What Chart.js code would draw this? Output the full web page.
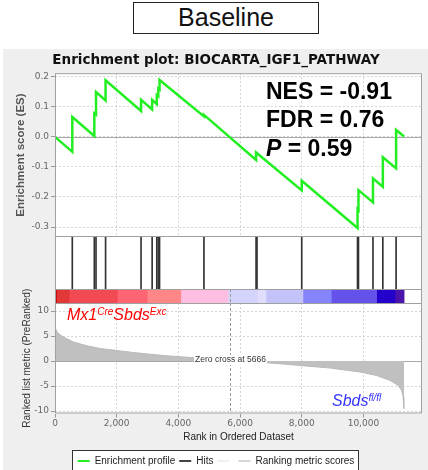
<!DOCTYPE html>
<html>
<head>
<meta charset="utf-8">
<script src="https://cdn.jsdelivr.net/npm/chart.js@4.4.1/dist/chart.umd.min.js"></script>
<style>
    html, body { margin: 0; padding: 0; background: #fff; }
    body { position: relative; width: 428px; height: 470px; overflow: hidden; font-family: Arial, "Liberation Sans", sans-serif; }
    .abs { position: absolute; }
    canvas { position: absolute; left: 0; }
    #panel { left: 3px; top: 49px; width: 425px; height: 421px; background: #efefef; }
    #caption { left: 133px; top: 2px; width: 186px; height: 32px; box-sizing: border-box; border: 1.5px solid #222;
               font-size: 25px; line-height: 29px; text-align: center; color: #111; }
    #legendBox { left: 72px; top: 450px; width: 287px; height: 26px; box-sizing: border-box; border: 1px solid #333; background: #fff; }
    #stats { left: 266px; top: 77px; font-size: 23px; font-weight: bold; line-height: 28.4px; color: #000; white-space: nowrap; }
    .geno { font-style: italic; font-size: 16px; line-height: 18px; white-space: nowrap; }
    .geno sup { font-size: 10px; vertical-align: 0; position: relative; top: -5px; }
    #upLabel { left: 67px; top: 306px; color: #f00; }
    #dnLabel { left: 332px; top: 392px; color: #3434ff; }
</style>
</head>
<body>
<div id="panel" class="abs"></div>
<div id="caption" class="abs">Baseline</div>
<div id="legendBox" class="abs"></div>
<canvas id="esCanvas" width="428" height="188" style="top:49px"></canvas>
<canvas id="hitsCanvas" width="428" height="54" style="top:236px"></canvas>
<canvas id="barCanvas" width="428" height="15" style="top:289px"></canvas>
<canvas id="metricCanvas" width="428" height="239" style="top:237px"></canvas>
<div id="stats" class="abs">NES = -0.91<br>FDR = 0.76<br><i>P</i> = 0.59</div>
<div id="upLabel" class="abs geno">Mx1<sup>Cre</sup>Sbds<sup>Exc</sup></div>
<div id="dnLabel" class="abs geno">Sbds<sup>fl/fl</sup></div>
<script>
// 排序清單長度（x 軸上限）
const xMax = 11900;
const zeroCross = 5666;

// 刻度
const rankTicks = [0, 2000, 4000, 6000, 8000, 10000];
const esTicks = [-0.3, -0.2, -0.1, 0, 0.1, 0.2];
const metricTicks = [-10, -5, 0, 5, 10];

// 富集分數曲線頂點
const esRank = [0, 561, 561, 1275, 1275, 1330, 1330, 1640, 1640, 2790, 2790, 3150, 3150, 3300, 3300, 3350, 3350, 3390, 3390,
                4830, 4830, 6520, 6520, 8000, 8000, 9810, 9810, 9840, 9840, 10310, 10310, 10630, 10630, 11060, 11060, 11320];
const esValue = [0, -0.050, 0.066, 0.003, 0.078, 0.074, 0.149, 0.121, 0.188, 0.086, 0.123, 0.091, 0.123, 0.109, 0.139, 0.135, 0.160, 0.157, 0.189,
                 0.068, 0.073, -0.077, -0.052, -0.178, -0.146, -0.303, -0.241, -0.244, -0.177, -0.218, -0.138, -0.166, -0.068, -0.105, 0.023, 0.001];

// 基因集命中位置
const hitRanks = [561, 1275, 1330, 1640, 2790, 3150, 3300, 3350, 3390, 4830, 6520, 6550, 8000, 9810, 9840, 10310, 10630, 11060];

// 色帶
const colorBreaks = [0, 75, 480, 2040, 3010, 4100, 5630, 6580, 6860, 8060, 8980, 10450, 11050, 11320];
const colorBarColors = ['#cc0a0a', '#e23838', '#f24a52', '#ff6472', '#ff8686', '#ffbde2', '#d3d3fb',
                        '#dfdffd', '#c3c3fa', '#8484fc', '#6552ea', '#2402cc', '#4a14aa'];

// 排序指標
const metricRank = [0, 15, 50, 110, 270, 600, 1030, 1460, 2000, 2540, 3080, 3620, 4160, 4540, 5000, 5666,
                    6200, 6750, 7400, 7950, 8920, 9890, 10430, 10870, 11130, 11240, 11290, 11310, 11320];
const metricValue = [7.2, 6.6, 6.0, 5.5, 4.8, 3.8, 3.05, 2.5, 2.1, 1.7, 1.35, 1.05, 0.8, 0.65, 0.42, 0,
                     -0.1, -0.3, -0.6, -0.9, -1.4, -2.2, -2.9, -3.9, -4.9, -5.9, -7.2, -9.5, -9.5];

// 圖例
const legendLabels = ['Enrichment profile', 'Hits', '', 'Ranking metric scores'];
const legendColors = ['#22ee22', '#444444', '#f0f0f0', '#d6d6d6'];

const esColor = '#22ee22';
const gridColor = '#d4d4d4';
const tickFont = { family: 'DejaVu Sans', size: 9 };

Chart.defaults.font.family = 'Arial, "Liberation Sans", sans-serif';
Chart.defaults.animation = false;

// 白底、零線、外框、零交叉線
const panelFrame = {
    id: 'panelFrame',
    beforeDraw(chart) {
        const { ctx, chartArea: a } = chart;
        ctx.save();
        ctx.fillStyle = '#fff';
        ctx.fillRect(a.left, a.top, a.width, a.height);
        ctx.restore();
    },
    beforeDatasetsDraw(chart, args, opts) {
        if (!opts.zeroLine) return;
        const { ctx, chartArea: a } = chart;
        const y = Math.round(chart.scales.y.getPixelForValue(0)) + 0.5;
        ctx.save();
        ctx.strokeStyle = '#a8a8a8';
        ctx.lineWidth = 1;
        ctx.beginPath();
        ctx.moveTo(a.left, y);
        ctx.lineTo(a.right, y);
        ctx.stroke();
        ctx.restore();
    },
    afterDatasetsDraw(chart, args, opts) {
        const { ctx, chartArea: a } = chart;
        ctx.save();
        if (opts.zeroCross) {
            const x = Math.round(chart.scales.x.getPixelForValue(zeroCross)) + 0.5;
            ctx.strokeStyle = '#9a9a9a';
            ctx.setLineDash([3, 2]);
            ctx.beginPath();
            ctx.moveTo(x, a.top);
            ctx.lineTo(x, a.bottom);
            ctx.stroke();
            ctx.setLineDash([]);
            if (opts.zeroLabel) {
                const text = 'Zero cross at ' + zeroCross;
                ctx.font = '8.5px Arial, "Liberation Sans", sans-serif';
                const w = ctx.measureText(text).width;
                const y = chart.scales.y.getPixelForValue(0) - 1;
                ctx.fillStyle = '#fff';
                ctx.fillRect(x - w / 2 - 1, y - 5, w + 2, 10);
                ctx.fillStyle = '#333';
                ctx.textAlign = 'center';
                ctx.textBaseline = 'middle';
                ctx.fillText(text, x, y);
            }
        }
        ctx.strokeStyle = '#a0a0a0';
        ctx.lineWidth = 1;
        ctx.strokeRect(a.left + 0.5, a.top + 0.5, a.width - 1, a.height - 1);
        ctx.restore();
    }
};

const baseOptions = {
    responsive: false,
    devicePixelRatio: 1,
    animation: false,
    events: []
};

function fixedTicks(values) {
    return s => { s.ticks = values.map(v => ({ value: v })); };
}

function rankAxis(showLabels) {
    return {
        type: 'linear',
        min: 0,
        max: xMax,
        bounds: 'data',
        offset: false,
        afterBuildTicks: fixedTicks(rankTicks),
        ticks: {
            display: showLabels,
            font: tickFont,
            color: '#666',
            padding: 1,
            maxRotation: 0,
            callback: v => v.toLocaleString('en-US')
        },
        grid: { color: gridColor, drawTicks: showLabels, tickLength: 4, tickColor: '#999' },
        border: { display: false, dash: [2, 2] }
    };
}

// 富集分數圖
const esX = rankAxis(false);
esX.afterFit = s => { s.height = 0; };
new Chart(document.getElementById('esCanvas'), {
    type: 'line',
    data: {
        datasets: [{
            data: esRank.map((r, i) => ({ x: r, y: esValue[i] })),
            borderColor: esColor,
            borderWidth: 2.5,
            pointRadius: 0,
            tension: 0,
            fill: false
        }]
    },
    options: {
        ...baseOptions,
        layout: { padding: { left: 10, right: 6, top: 0, bottom: 0 } },
        plugins: {
            legend: { display: false },
            tooltip: { enabled: false },
            title: {
                display: true,
                text: 'Enrichment plot: BIOCARTA_IGF1_PATHWAY',
                font: { family: 'DejaVu Sans', size: 13.5, weight: 'bold' },
                color: '#111',
                padding: { top: 3, bottom: 5 }
            },
            panelFrame: { zeroLine: true }
        },
        scales: {
            x: esX,
            y: {
                min: -0.333,
                max: 0.2116,
                bounds: 'data',
                afterBuildTicks: fixedTicks(esTicks),
                ticks: {
                    font: tickFont,
                    color: '#666',
                    padding: 2,
                    callback: v => v.toFixed(1)
                },
                grid: { color: gridColor, tickLength: 4, tickColor: '#999' },
                border: { display: false, dash: [2, 2] },
                title: {
                    display: true,
                    text: 'Enrichment score (ES)',
                    font: { size: 11.5, weight: 'bold' },
                    color: '#555',
                    padding: { top: 4, bottom: 0 }
                },
                afterFit: s => { s.width = 45; s.paddingTop = 0; s.paddingBottom = 0; }
            }
        }
    },
    plugins: [panelFrame]
});

// 命中位置
new Chart(document.getElementById('hitsCanvas'), {
    type: 'bar',
    data: {
        datasets: [{
            data: hitRanks.map(r => ({ x: r, y: 1 })),
            backgroundColor: '#333',
            barThickness: 1
        }]
    },
    options: {
        ...baseOptions,
        layout: { padding: { left: 55, right: 6, top: 0, bottom: 0 } },
        plugins: { legend: { display: false }, tooltip: { enabled: false }, panelFrame: {} },
        scales: {
            x: { type: 'linear', min: 0, max: xMax, offset: false, display: false },
            y: { min: 0, max: 1, display: false }
        }
    },
    plugins: [panelFrame]
});

// 色帶
new Chart(document.getElementById('barCanvas'), {
    type: 'bar',
    data: {
        labels: ['bar'],
        datasets: [{
            data: colorBarColors.map((c, i) => ({ x: [colorBreaks[i], colorBreaks[i + 1]], y: 'bar' })),
            backgroundColor: colorBarColors,
            borderWidth: 0,
            barPercentage: 1,
            categoryPercentage: 1
        }]
    },
    options: {
        ...baseOptions,
        indexAxis: 'y',
        layout: { padding: { left: 55, right: 6, top: 0, bottom: 0 } },
        plugins: { legend: { display: false }, tooltip: { enabled: false }, panelFrame: { zeroCross: true } },
        scales: {
            x: { type: 'linear', min: 0, max: xMax, display: false },
            y: { type: 'category', display: false }
        }
    },
    plugins: [panelFrame]
});

// 排序指標
const metricX = rankAxis(true);
metricX.title = {
    display: true,
    text: 'Rank in Ordered Dataset',
    font: { size: 10 },
    color: '#222',
    padding: { top: 0, bottom: 8.3 }
};
metricX.afterFit = s => { s.height = 38.5; };
new Chart(document.getElementById('metricCanvas'), {
    type: 'line',
    data: {
        datasets: [{
            data: metricRank.map((r, i) => ({ x: r, y: metricValue[i] })),
            borderColor: '#b8b8b8',
            borderWidth: 1,
            backgroundColor: '#c0c0c0',
            fill: 'origin',
            pointRadius: 0,
            tension: 0
        }]
    },
    options: {
        ...baseOptions,
        layout: { padding: { left: 10, right: 6, top: 66, bottom: 0 } },
        plugins: {
            tooltip: { enabled: false },
            legend: {
                display: true,
                position: 'bottom',
                labels: {
                    boxWidth: 12,
                    boxHeight: 2,
                    padding: 4,
                    color: '#222',
                    font: { size: 10 },
                    generateLabels: () => legendLabels.map((t, i) => ({
                        text: t,
                        fillStyle: legendColors[i],
                        strokeStyle: legendColors[i],
                        lineWidth: 0,
                        hidden: false,
                        fontColor: '#222'
                    }))
                }
            },
            panelFrame: { zeroLine: true, zeroCross: true, zeroLabel: true }
        },
        scales: {
            x: metricX,
            y: {
                min: -10.5,
                max: 11.6,
                bounds: 'data',
                afterBuildTicks: fixedTicks(metricTicks),
                ticks: {
                    font: tickFont,
                    color: '#666',
                    padding: 2
                },
                grid: { color: gridColor, tickLength: 4, tickColor: '#999' },
                border: { display: false, dash: [2, 2] },
                title: {
                    display: true,
                    text: 'Ranked list metric (PreRanked)',
                    font: { size: 10 },
                    color: '#333',
                    padding: { top: 11, bottom: 0 }
                },
                afterFit: s => { s.width = 45; s.paddingTop = 0; s.paddingBottom = 0; }
            }
        }
    },
    plugins: [panelFrame]
});
</script>
</body>
</html>
